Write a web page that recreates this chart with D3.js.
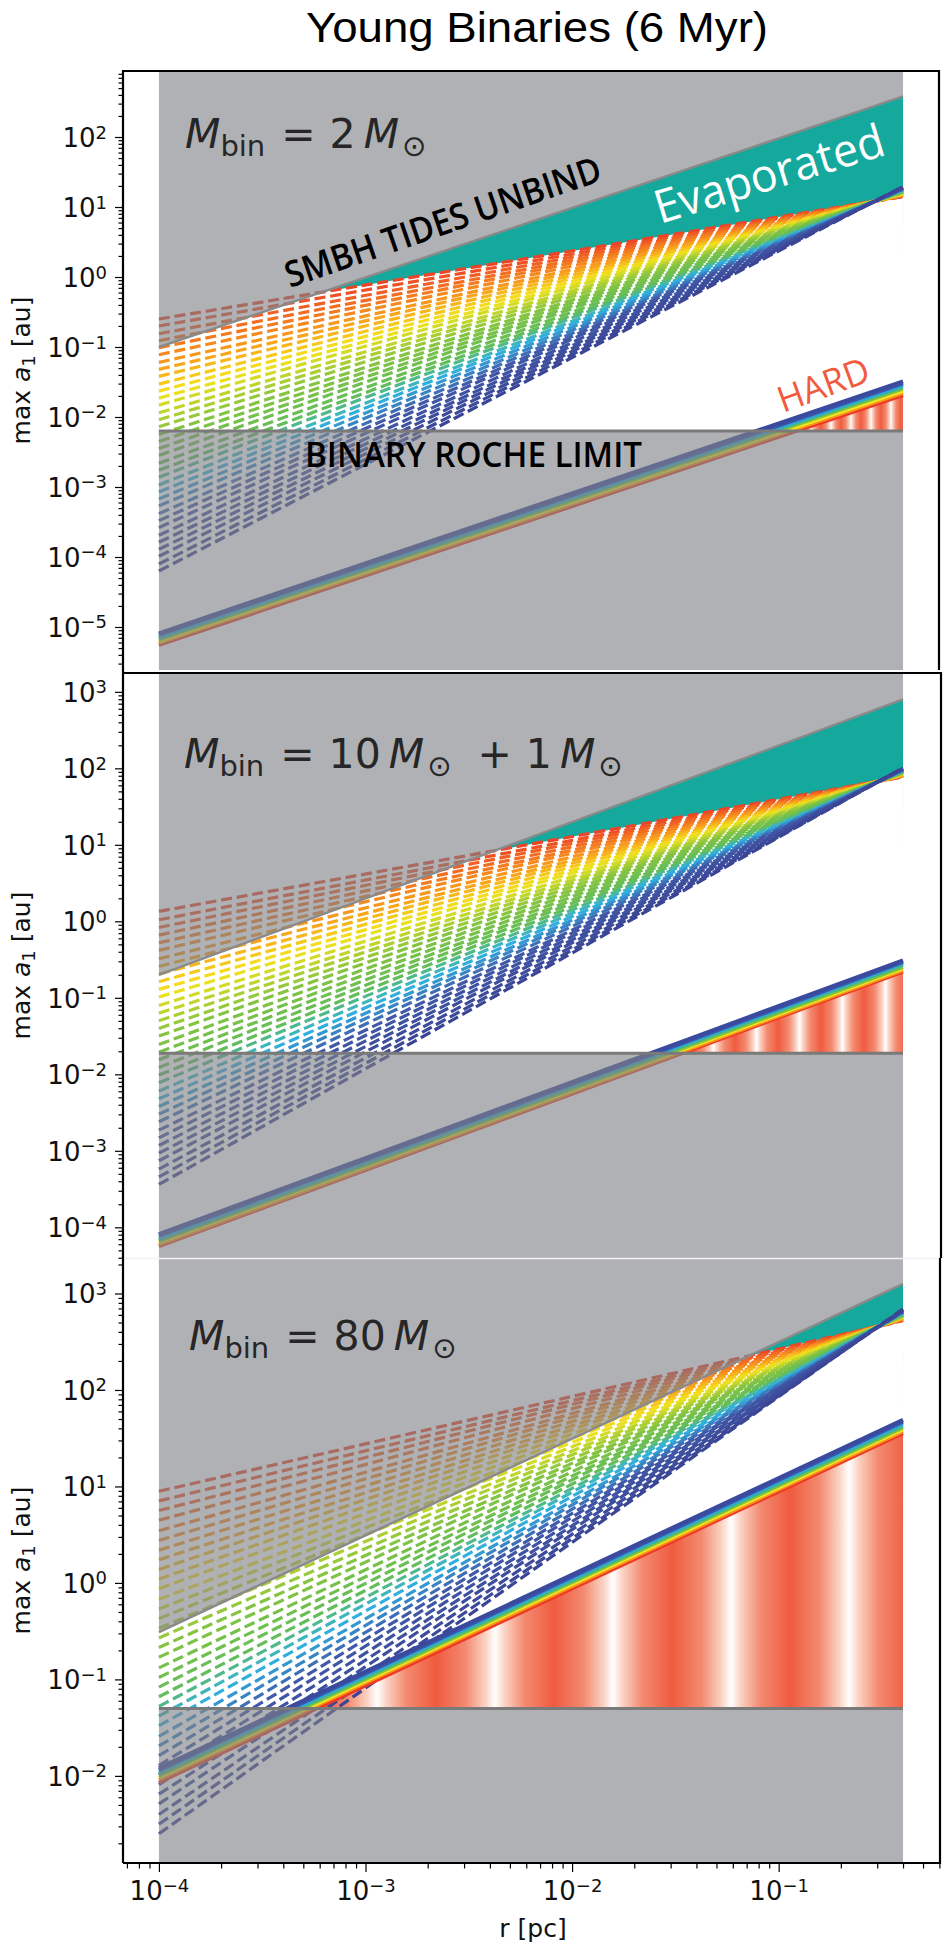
<!DOCTYPE html>
<html>
<head>
<meta charset="utf-8">
<title>Young Binaries (6 Myr)</title>
<script src="https://cdn.jsdelivr.net/npm/d3@7"></script>
<style>
  body { margin: 0; background: #fff; }
  svg { display: block; }
</style>
</head>
<body>
<svg id="canvas" width="950" height="1951"></svg>
<script>
// Radial extent of every computed curve [pc]
const rMin = 1e-4;
const rMax = 0.4;

// Axis limits
const xLimits = [6.7e-5, 0.604];
const yLimits = [[2.43e-6, 877], [3.97e-5, 1763], [1.25e-3, 2333]];

// SMBH tidal limit, log10(a / au) at rMin and rMax (one pair per panel)
const tideEnds = [[-1.0, 2.58], [-0.7, 2.9], [-0.51, 3.1]];

// Binary Roche limit [au]
const rocheLimit = [0.0063, 0.0188, 0.05];

// Dashed family: log10(max a1 / au) at rMin (start) and rMax (end), red -> blue
const dashStart1 = [-0.60, -0.70, -0.81, -0.91, -1.01, -1.11, -1.22, -1.32, -1.42, -1.53,
  -1.63, -1.73, -1.83, -1.94, -2.04, -2.14, -2.25, -2.35, -2.45, -2.55,
  -2.66, -2.76, -2.86, -2.97, -3.07, -3.17, -3.27, -3.38, -3.48, -3.58,
  -3.69, -3.79, -3.89, -3.99, -4.10, -4.20];
const dashEnd1 = [1.15, 1.15, 1.16, 1.16, 1.17, 1.17, 1.17, 1.18, 1.18, 1.19,
  1.19, 1.19, 1.20, 1.20, 1.21, 1.21, 1.21, 1.22, 1.22, 1.23,
  1.23, 1.23, 1.24, 1.24, 1.25, 1.25, 1.25, 1.26, 1.26, 1.27,
  1.27, 1.27, 1.28, 1.28, 1.29, 1.29];
const dashStart2 = [0.13, 0.02, -0.08, -0.18, -0.28, -0.38, -0.49, -0.59, -0.69, -0.79,
  -0.89, -0.99, -1.10, -1.20, -1.30, -1.40, -1.50, -1.61, -1.71, -1.81,
  -1.91, -2.01, -2.11, -2.22, -2.32, -2.42, -2.52, -2.62, -2.73, -2.83,
  -2.93, -3.03, -3.13, -3.24, -3.34, -3.44];
const dashEnd2 = [1.89, 1.89, 1.90, 1.90, 1.90, 1.91, 1.91, 1.91, 1.92, 1.92,
  1.92, 1.93, 1.93, 1.93, 1.94, 1.94, 1.94, 1.95, 1.95, 1.95,
  1.96, 1.96, 1.96, 1.97, 1.97, 1.97, 1.98, 1.98, 1.98, 1.99,
  1.99, 1.99, 2.00, 2.00, 2.00, 2.01];
const dashStart3 = [0.95, 0.85, 0.75, 0.65, 0.54, 0.44, 0.34, 0.24, 0.14, 0.04,
  -0.06, -0.17, -0.27, -0.37, -0.47, -0.57, -0.67, -0.77, -0.88, -0.98,
  -1.08, -1.18, -1.28, -1.38, -1.48, -1.59, -1.69, -1.79, -1.89, -1.99,
  -2.09, -2.19, -2.29, -2.40, -2.50, -2.60];
const dashEnd3 = [2.72, 2.72, 2.73, 2.73, 2.73, 2.74, 2.74, 2.74, 2.75, 2.75,
  2.75, 2.76, 2.76, 2.76, 2.77, 2.77, 2.77, 2.78, 2.78, 2.78,
  2.79, 2.79, 2.79, 2.80, 2.80, 2.80, 2.81, 2.81, 2.81, 2.82,
  2.82, 2.82, 2.83, 2.83, 2.83, 2.84];

// Solid band (hard/soft boundary), log10(a / au) at rMin and rMax, top -> bottom
const bandStart1 = [-5.09, -5.11, -5.14, -5.16, -5.18, -5.21, -5.23, -5.26];
const bandEnd1 = [-1.49, -1.52, -1.55, -1.57, -1.60, -1.63, -1.66, -1.69];
const bandStart2 = [-4.09, -4.11, -4.14, -4.16, -4.18, -4.20, -4.23, -4.25];
const bandEnd2 = [-0.51, -0.53, -0.55, -0.57, -0.60, -0.62, -0.64, -0.66];
const bandStart3 = [-1.92, -1.94, -1.96, -1.98, -2.00, -2.02, -2.04, -2.07];
const bandEnd3 = [1.69, 1.67, 1.65, 1.63, 1.61, 1.59, 1.57, 1.55];

// Panel labels (mathtext pieces)
const massLabels = [
  [["M", "it"], ["bin", "sub"], ["=", "op"], ["2", "num"], ["M", "it"], ["\u2299", "sub"]],
  [["M", "it"], ["bin", "sub"], ["=", "op"], ["10", "num"], ["M", "it"], ["\u2299", "sub"],
   ["+", "op"], ["1", "num"], ["M", "it"], ["\u2299", "sub"]],
  [["M", "it"], ["bin", "sub"], ["=", "op"], ["80", "num"], ["M", "it"], ["\u2299", "sub"]],
];

// ---------------------------------------------------------------------------
// small helper so attribute objects can be set in one call
d3.selection.prototype.attrs = function (obj) {
  Object.entries(obj).forEach(([k, v]) => this.attr(k, v));
  return this;
};

const svg = d3.select("#canvas");
const defs = svg.append("defs");

const frameLeft = 123, frameRight = 940;
const boxes = [
  { top: 71, bottom: 670, label: [185, 148], stripe: [841, 861] },
  { top: 673, bottom: 1258, label: [184, 768], stripe: [778, 821] },
  { top: 1258, bottom: 1863, label: [189, 1350], stripe: [672, 790] },
];

const dashStarts = [dashStart1, dashStart2, dashStart3];
const dashEnds = [dashEnd1, dashEnd2, dashEnd3];
const bandStarts = [bandStart1, bandStart2, bandStart3];
const bandEnds = [bandEnd1, bandEnd2, bandEnd3];

const teal = "#14a99c";
const shade = "rgba(128,129,134,0.62)";
const hardRed = "#f05b3f";
const bandColors = ["#3a4a9f", "#3d56a8", "#29a9e1", "#3fb58f", "#7cc143", "#f2e41c", "#f7931e", "#ee3a25"];
const dashColor = d3.scaleLinear()
  .domain([0, 0.1, 0.2, 0.3, 0.45, 0.6, 0.68, 0.8, 1])
  .range(["#ec4426", "#f37321", "#f8a51b", "#f3e41d", "#86c440", "#63bd5a", "#2fb3e2", "#4159a8", "#3b4595"]);

const x = d3.scaleLog().domain(xLimits).range([frameLeft, frameRight]);

const logTicks = (domain) => {
  const out = [];
  const k0 = Math.floor(Math.log10(domain[0]));
  const k1 = Math.ceil(Math.log10(domain[1]));
  for (let k = k0; k <= k1; k++) {
    for (let m = 1; m < 10; m++) {
      const v = m * Math.pow(10, k);
      if (v >= domain[0] && v <= domain[1]) out.push({ v, k, major: m === 1 });
    }
  }
  return out;
};

const powerLabel = (text, k) => {
  text.append("tspan").attr("font-size", 26).text("10");
  text.append("tspan").attr("font-size", 18).attr("dy", -8.5)
    .text(k < 0 ? "\u2212" + -k : String(k));
};

// gap (px) placed before each piece of a panel label
const labelGap = (t, kind, prev) => {
  if (kind === "op") return prev === "bin" ? 16 : 26;
  if (kind === "num") return 14;
  if (kind === "it" && prev !== null) return 8;
  if (kind === "sub" && t !== "bin") return 3;
  return 0;
};

boxes.forEach((box, p) => {
  const y = d3.scaleLog().domain(yLimits[p]).range([box.bottom, box.top]);
  const seg = (a0, a1) => [[rMin, Math.pow(10, a0)], [rMax, Math.pow(10, a1)]];
  const line = d3.line().x((d) => x(d[0])).y((d) => y(d[1]));
  const below = d3.area().x((d) => x(d[0])).y0(box.bottom).y1((d) => y(d[1]));
  const above = d3.area().x((d) => x(d[0])).y0(box.top).y1((d) => y(d[1]));

  const tide = seg(tideEnds[p][0], tideEnds[p][1]);
  const roche = [[rMin, rocheLimit[p]], [rMax, rocheLimit[p]]];
  const dashes = dashStarts[p].map((s, i) => ({ i, pts: seg(s, dashEnds[p][i]) }));
  const band = bandStarts[p].map((s, i) => ({ i, pts: seg(s, bandEnds[p][i]) }));

  defs.append("clipPath").attr("id", `clip${p}`)
    .append("rect")
    .attrs({ x: frameLeft, y: box.top, width: frameRight - frameLeft, height: box.bottom - box.top });

  const plot = svg.append("g").attr("clip-path", `url(#clip${p})`);

  // Evaporated: below the tidal limit and above every dashed curve
  const mask = defs.append("mask").attr("id", `evap${p}`)
    .attrs({ maskUnits: "userSpaceOnUse", x: 0, y: 0, width: 950, height: 1951 });
  mask.append("rect").attrs({ x: 0, y: 0, width: 950, height: 1951, fill: "#fff" });
  mask.selectAll("path").data(dashes).join("path")
    .attr("d", (d) => below(d.pts)).attr("fill", "#000");
  plot.append("path").attr("d", below(tide)).attr("fill", teal).attr("mask", `url(#evap${p})`);

  // HARD: above the Roche limit, below the lowest band curve
  const grad = defs.append("linearGradient").attr("id", `hard${p}`)
    .attrs({ gradientUnits: "userSpaceOnUse", spreadMethod: "repeat",
      x1: box.stripe[0], x2: box.stripe[1], y1: 0, y2: 0 });
  [[0, hardRed], [0.25, "#f38a70"], [0.42, "#fbd3c4"], [0.5, "#ffffff"],
   [0.58, "#fbd3c4"], [0.75, "#f38a70"], [1, hardRed]].forEach(([o, c]) =>
    grad.append("stop").attr("offset", o).attr("stop-color", c));
  defs.append("clipPath").attr("id", `aboveRoche${p}`)
    .append("rect").attrs({ x: 0, y: box.top, width: 950, height: y(rocheLimit[p]) - box.top });
  const hardArea = d3.area().x((d) => x(d[0])).y0(y(rocheLimit[p])).y1((d) => y(d[1]));
  plot.append("g").attr("clip-path", `url(#aboveRoche${p})`)
    .append("path").attr("d", hardArea(band[band.length - 1].pts))
    .attr("fill", `url(#hard${p})`);

  // dashed family
  plot.append("g").selectAll("path").data(dashes).join("path")
    .attr("d", (d) => line(d.pts))
    .attr("fill", "none")
    .attr("stroke", (d) => dashColor(d.i / (dashes.length - 1)))
    .attr("stroke-width", 3.2)
    .attr("stroke-dasharray", "11 4.8");

  // solid band, bottom line first so the blue one sits on top
  plot.append("g").selectAll("path").data(band.slice().reverse()).join("path")
    .attr("d", (d) => line(d.pts))
    .attr("fill", "none")
    .attr("stroke", (d) => bandColors[d.i])
    .attr("stroke-width", (d) => (d.i < 2 ? 4 : 3.4));

  // excluded zones
  plot.append("path").attr("d", above(tide)).attr("fill", shade);
  plot.append("path").attr("d", below(roche)).attr("fill", shade);
  plot.append("path").attr("d", line(tide)).attr("fill", "none")
    .attr("stroke", "#8a8a8a").attr("stroke-width", 2.4);
  plot.append("path").attr("d", line(roche)).attr("fill", "none")
    .attr("stroke", "#7a7a7a").attr("stroke-width", 3);

  // panel label
  const lab = svg.append("text")
    .attrs({ x: box.label[0], y: box.label[1], fill: "#262626", "font-family": "DejaVu Sans" });
  let prev = null, prevKind = null;
  massLabels[p].forEach(([t, kind]) => {
    const ts = lab.append("tspan").text(t);
    ts.attr("font-size", kind === "sub" ? 29 : 41);
    if (kind === "it") ts.attr("font-style", "italic");
    const dx = labelGap(t, kind, prev);
    if (dx) ts.attr("dx", dx);
    if (kind === "sub") ts.attr("dy", 8);
    else if (prevKind === "sub") ts.attr("dy", -8);
    prev = t;
    prevKind = kind;
  });

  // y axis ticks
  const ticks = logTicks(yLimits[p]);
  const yAxisG = svg.append("g").attr("transform", `translate(${frameLeft},0)`).attr("color", "#000");
  yAxisG.append("g")
    .call(d3.axisLeft(y).tickValues(ticks.filter((d) => !d.major).map((d) => d.v)).tickSize(4.5).tickFormat(""))
    .call((a) => a.select(".domain").remove());
  const majorG = yAxisG.append("g")
    .call(d3.axisLeft(y).tickValues(ticks.filter((d) => d.major).map((d) => d.v)).tickSize(8).tickFormat(""))
    .call((a) => a.select(".domain").remove());
  yAxisG.selectAll("line").attr("stroke-width", 1.2);
  majorG.selectAll(".tick").each(function (v) {
    const t = d3.select(this).append("text")
      .attrs({ x: -16, y: 9.5, "text-anchor": "end", "font-family": "DejaVu Sans", fill: "#111" });
    powerLabel(t, Math.round(Math.log10(v)));
  });

  // y axis title
  const yt = svg.append("text")
    .attr("transform", `translate(30,${(box.top + box.bottom) / 2}) rotate(-90)`)
    .attrs({ "text-anchor": "middle", "font-family": "DejaVu Sans", "font-size": 25, fill: "#111" });
  yt.append("tspan").text("max ");
  yt.append("tspan").attr("font-style", "italic").text("a");
  yt.append("tspan").attr("font-size", 18).attr("dy", 5).text("1");
  yt.append("tspan").attr("dy", -5).text(" [au]");
});

// separator between the lower two panels
svg.append("line").attrs({ x1: frameLeft, x2: frameRight, y1: 1258.5, y2: 1258.5, stroke: "#f2f2f2", "stroke-width": 1.5 });

// frames
const frame = d3.path();
frame.moveTo(frameLeft, 1863); frame.lineTo(frameLeft, 71); frame.lineTo(frameRight - 1, 71); frame.lineTo(frameRight - 1, 670);
frame.moveTo(frameLeft, 673); frame.lineTo(frameRight + 1, 673); frame.lineTo(frameRight + 1, 1258);
frame.moveTo(frameRight, 1258); frame.lineTo(frameRight, 1863); frame.lineTo(frameLeft, 1863);
svg.append("path").attr("d", frame.toString())
  .attrs({ fill: "none", stroke: "#000", "stroke-width": 2.2 });

// x axis (bottom panel only)
const xticks = logTicks(xLimits);
const xAxisG = svg.append("g").attr("transform", "translate(0,1864)").attr("color", "#000");
xAxisG.append("g")
  .call(d3.axisBottom(x).tickValues(xticks.filter((d) => !d.major).map((d) => d.v)).tickSize(4.5).tickFormat(""))
  .call((a) => a.select(".domain").remove());
const xMajor = xAxisG.append("g")
  .call(d3.axisBottom(x).tickValues(xticks.filter((d) => d.major).map((d) => d.v)).tickSize(8).tickFormat(""))
  .call((a) => a.select(".domain").remove());
xAxisG.selectAll("line").attr("stroke-width", 1.2);
xMajor.selectAll(".tick").each(function (v) {
  const t = d3.select(this).append("text")
    .attrs({ x: 0, y: 36, "text-anchor": "middle", "font-family": "DejaVu Sans", fill: "#111" });
  powerLabel(t, Math.round(Math.log10(v)));
});
svg.append("text")
  .attrs({ x: 533, y: 1937, "text-anchor": "middle", "font-family": "DejaVu Sans", "font-size": 25, fill: "#111" })
  .text("r [pc]");

// title and annotations
svg.append("text")
  .attrs({ x: 306, y: 42, "font-family": "Liberation Sans", "font-size": 43, fill: "#000",
    textLength: 462, lengthAdjust: "spacingAndGlyphs" })
  .text("Young Binaries (6 Myr)");

const note = (txt, tx, ty, angle, size, len, color, weight) =>
  svg.append("text")
    .attr("transform", `translate(${tx},${ty}) rotate(${angle})`)
    .attrs({ "font-family": "Open Sans", "font-size": size, "font-weight": weight, fill: color,
      textLength: len, lengthAdjust: "spacingAndGlyphs" })
    .text(txt);

note("SMBH TIDES UNBIND", 290, 288, -19, 36, 332, "#000", 600);
note("Evaporated", 660, 224, -17, 46, 238, "#fff", 400);
note("HARD", 783, 413, -20, 36, 95, "#f15a3e", 400);
note("BINARY ROCHE LIMIT", 305, 467, 0, 35, 337, "#000", 600);
</script>
</body>
</html>
